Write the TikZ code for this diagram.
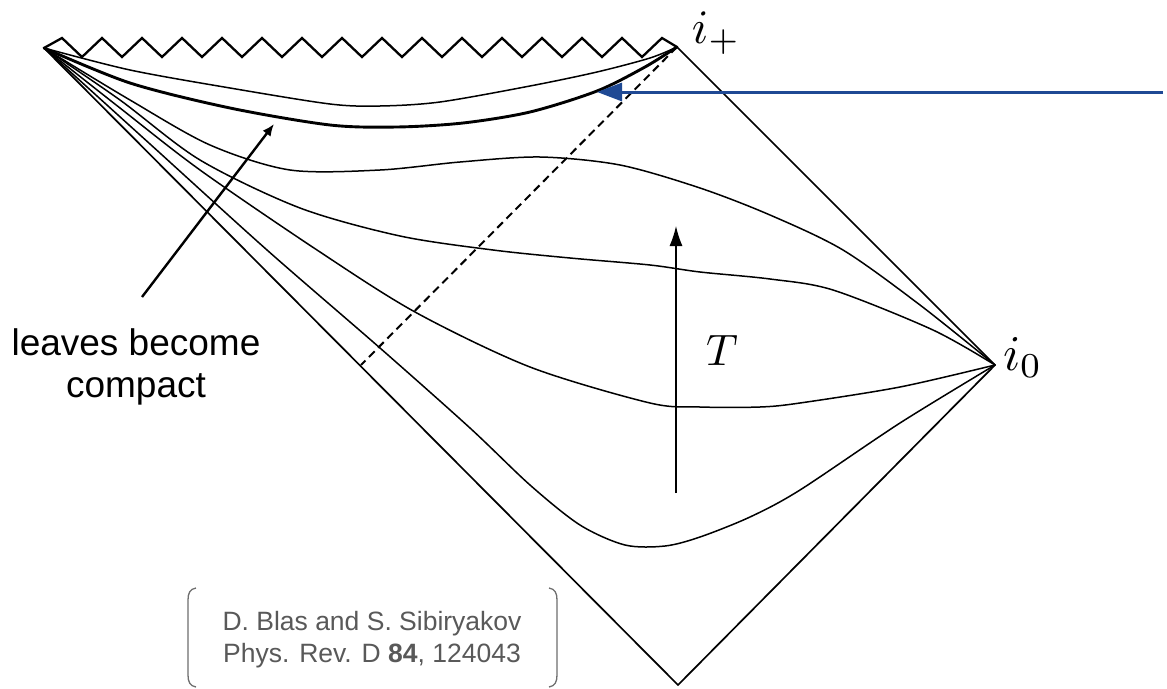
\documentclass[tikz,border=0pt]{standalone}
\usepackage{fontspec}
\newfontfamily\arial{Liberation Sans}
\usetikzlibrary{arrows.meta}
\definecolor{bluearrow}{RGB}{31,73,148}
\definecolor{citegray}{RGB}{89,89,89}
\definecolor{brackgray}{RGB}{110,110,110}
\begin{document}
\begin{tikzpicture}[x=1pt,y=-1pt,
  leaf/.style={line width=1.5, line cap=round, line join=round},
  thickleaf/.style={line width=2.9, line cap=round, line join=round},
  bound/.style={line width=1.7, line cap=round, line join=round},
  zig/.style={line width=2.3, line join=miter},
  horizon/.style={line width=2, dash pattern=on 8 off 5},
  bracket/.style={draw=brackgray, line width=1.3},
  mathlabel/.style={inner sep=0},
  sanslabel/.style={inner sep=0, align=center}]
\useasboundingbox (0,0) rectangle (1167,688);
\fill[white] (0,0) rectangle (1167,688);
% corners
\coordinate (L) at (44,48);
\coordinate (P) at (677,47);
\coordinate (R) at (995,365);
\coordinate (B) at (678,685);
% diamond edges
\draw[bound] (P) -- (R) -- (B) -- (L);
% singularity zigzag
\draw[zig] (L) -- (62,38) foreach \k in {0,...,14} { -- ({82+40*\k},57) -- ({102+40*\k},38) } -- (P);
% leaves to i+
\draw[leaf] plot[smooth] coordinates {(44,48) (130,70) (230,88) (330,104) (380,106) (440,102) (530,86) (597,72) (650,58) (677,47)};
\draw[thickleaf] plot[smooth] coordinates {(44,48) (130,83) (230,108) (330,125) (397,127) (463,123) (530,112) (597,91) (645,67) (677,47)};
% leaves to i0
\draw[leaf] plot[smooth] coordinates {(44,48) (130,100) (210,145) (290,170) (380,170) (460,162) (540,157) (620,165) (700,188) (770,215) (843,250) (920,305) (995,365)};
\draw[leaf] plot[smooth] coordinates {(44,48) (120,100) (200,160) (300,208) (400,236) (493,250) (570,258) (650,265) (700,272) (770,279) (833,290) (933,330) (995,365)};
\draw[leaf] plot[smooth] coordinates {(44,48) (120,108) (200,170) (317,250) (415,312) (530,367) (650,403) (700,407) (760,407) (800,403) (900,387) (995,365)};
\draw[leaf] plot[smooth] coordinates {(44,48) (150,144) (267,250) (380,348) (470,428) (530,485) (580,525) (625,545) (665,546) (700,537) (750,517) (800,490) (900,423) (995,365)};
% horizon
\coordinate (hEnd) at (361,365);
\draw[horizon] (P) -- (hEnd);
% time arrow
\coordinate (tBot) at (676,493);
\coordinate (tTop) at (676,226);
\draw[line width=1.3, -{Latex[length=20,width=13]}] (tBot) -- (tTop);
\node[mathlabel, scale=4.4] (tl) at (722,350) {$T$};
% labels
\node[mathlabel, anchor=base west, scale=4.8] (ip) at (691,43) {$i_+$};
\node[mathlabel, anchor=base west, scale=5] (iz) at (1002,370) {$i_0$};
% blue arrow
\coordinate (bStart) at (1163,92);
\coordinate (bTip) at (597,92);
\draw[bluearrow, line width=3, -{Triangle[length=25,width=18]}] (bStart) -- (bTip);
% leaves become compact
\node[sanslabel, anchor=north, font=\arial\fontsize{37}{42}\selectfont] (lbc) at (136,328) {leaves become\\compact};
\coordinate (cTail) at (142,297);
\coordinate (cTip) at (274,124);
\draw[line width=2.4, -{Latex[length=12,width=10]}] (cTail) -- (cTip);
% citation
\node[sanslabel, anchor=north, text=citegray, font=\arial\fontsize{26.5}{32}\selectfont] (cite) at (372,611) {D. Blas and S. Sibiryakov\\Phys. Rev. D \textbf{84}, 124043};
\draw[bracket] (196,588) .. controls (190,589) and (188,593) .. (188,600) -- (188,675) .. controls (188,682) and (190,686) .. (196,687);
\draw[bracket] (549,588) .. controls (555,589) and (557,593) .. (557,600) -- (557,675) .. controls (557,682) and (555,686) .. (549,687);
\end{tikzpicture}
\end{document}
